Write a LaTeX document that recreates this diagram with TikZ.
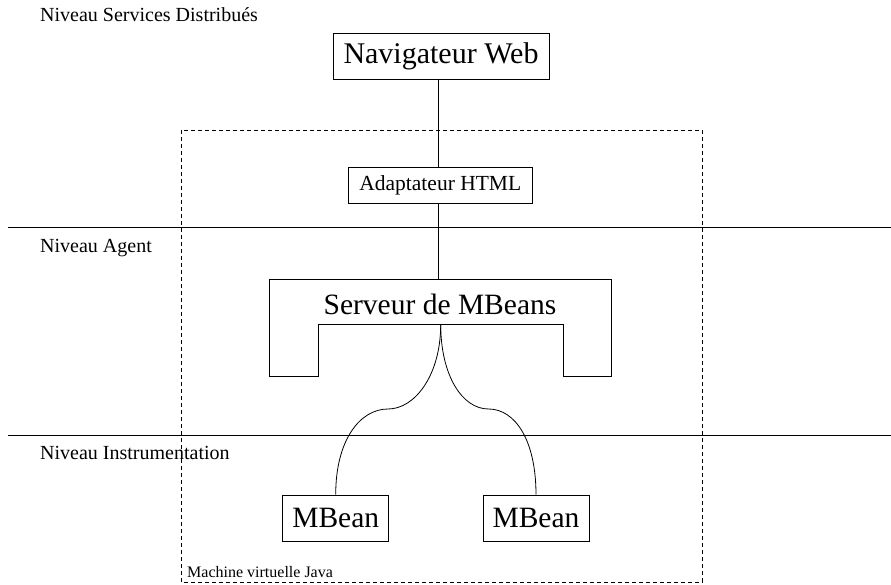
\documentclass[tikz,border=0pt]{standalone}
\usepackage{fontspec}
\setmainfont{Liberation Serif}
\usetikzlibrary{positioning}
\tikzset{
  boite/.style={draw, line width=0.8pt, inner sep=0pt, align=center},
  niveau/.style={anchor=base west, inner sep=0pt, font=\fontsize{20}{20}\selectfont},
  lien/.style={line width=0.8pt},
}
\begin{document}
\begin{tikzpicture}[x=1pt, y=-1pt]
    \useasboundingbox (0,0) rectangle (891,585);

    % Levels
    \draw[lien] (8,227) -- (891,227);
    \draw[lien] (8,435) -- (891,435);
    \node[niveau] (nsd) at (40,21.7) {Niveau Services Distribués};
    \node[niveau] (nag) at (40,252.5) {Niveau Agent};
    \node[niveau] (nin) at (40,459) {Niveau Instrumentation};

    % Java virtual machine
    \draw[line width=0.8pt, dash pattern=on 4pt off 3pt] (181,130) rectangle (702,582);
    \node[anchor=base west, inner sep=0pt, font=\fontsize{16}{16}\selectfont] (jvm) at (187,577) {Machine virtuelle Java};

    % Boxes
    \node[boite, minimum width=216pt, minimum height=46pt, font=\fontsize{30}{30}\selectfont] (nav) at (441,56.3) {Navigateur Web};
    \node[boite, minimum width=184pt, minimum height=36pt, font=\fontsize{21.5}{22}\selectfont] (html) at (440.3,185.3) {Adaptateur HTML};
    \node[boite, minimum width=106pt, minimum height=46pt, font=\fontsize{29.5}{30}\selectfont] (mb1) at (335.7,518) {MBean};
    \node[boite, minimum width=106pt, minimum height=46pt, font=\fontsize{29.5}{30}\selectfont] (mb2) at (536,518) {MBean};

    % MBean server
    \draw[lien] (269.5,279) -- (611.5,279) -- (611.5,376) -- (563.5,376) -- (563.5,324.5)
        -- (318.5,324.5) -- (318.5,376) -- (269.5,376) -- cycle;
    \node[inner sep=0pt, font=\fontsize{29.5}{30}\selectfont] (srv) at (440,304) {Serveur de MBeans};
    \coordinate (srvtop) at (438.3,279);
    \coordinate (srvbot) at (440.7,324.5);

    % Connections
    \draw[lien] (nav.south -| srvtop) -- (html.north -| srvtop);
    \draw[lien] (html.south -| srvtop) -- (srvtop);
    \draw[lien] (srvbot) .. controls (440.7,375) and (415,409) .. (388,409)
        .. controls (360,409) and (335.7,440) .. (mb1.north);
    \draw[lien] (srvbot) .. controls (440.7,375) and (462,409) .. (488.5,409)
        .. controls (515,409) and (536,440) .. (mb2.north);
\end{tikzpicture}
\end{document}
